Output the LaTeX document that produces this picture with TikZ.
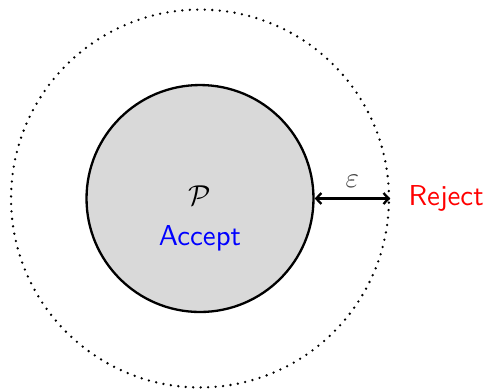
\documentclass[tikz,border=0pt]{standalone}
\usetikzlibrary{arrows.meta,positioning}

\begin{document}
\begin{tikzpicture}[x=0.3472pt,y=0.3472pt,line cap=round,line join=round,
  font=\sffamily,
  region/.style={circle,draw,line width=.8pt,fill=gray!30,minimum size=78.8pt,inner sep=0pt},
  margin/.style={circle,draw,line width=.9pt,dash pattern=on 0pt off 2.6pt,minimum size=131.2pt,inner sep=0pt},
  gap/.style={line width=.8pt,{Straight Barb[length=1.8pt,width=3.8pt]}-{Straight Barb[length=1.8pt,width=3.8pt]}},
  note/.style={font=\sffamily}]

\useasboundingbox (0,0) rectangle (485,389);

% Tolerance band and the accepted region.
\node[margin] (outer) at (200,190.5) {};
\node[region] (inner) at (200,190.5) {};

\node[note] (prop) at (200,193.5) {$\mathcal{P}$};
\node[note,text=blue,below=0pt of prop] (accept) {Accept};

% Distance epsilon between the two boundaries.
\draw[gap] (inner.east) -- node[above,text=black!72] (eps) {$\varepsilon$} (outer.east);
\node[note,text=red,right=1mm of outer] (reject) {Reject};

\end{tikzpicture}
\end{document}
